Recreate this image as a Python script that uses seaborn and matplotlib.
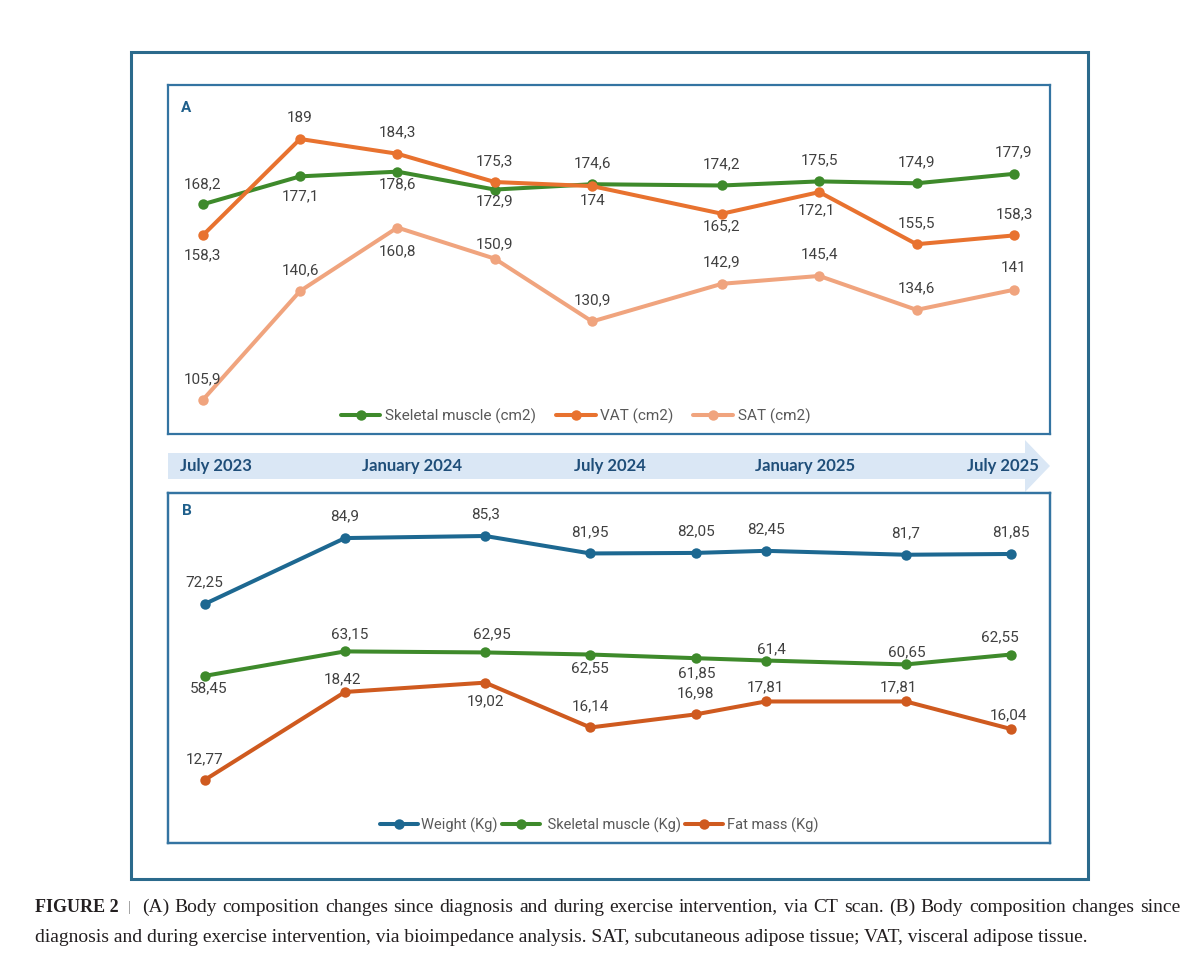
import numpy as np
import pandas as pd
import matplotlib
matplotlib.use("Agg")
import matplotlib.pyplot as plt
import seaborn as sns
from matplotlib.patches import Rectangle, Polygon

# Panel A - CT scan, months since July 2023
months_a = [0, 3, 6, 9, 12, 16, 19, 22, 25]
muscle_cm2 = [168.2, 177.1, 178.6, 172.9, 174.6, 174.2, 175.5, 174.9, 177.9]
vat_cm2 = [158.3, 189, 184.3, 175.3, 174, 165.2, 172.1, 155.5, 158.3]
sat_cm2 = [105.9, 140.6, 160.8, 150.9, 130.9, 142.9, 145.4, 134.6, 141]

# Panel B - bioimpedance, months since July 2023
months_b = [0, 4, 8, 11, 14, 16, 20, 23]
weight_kg = [72.25, 84.9, 85.3, 81.95, 82.05, 82.45, 81.7, 81.85]
muscle_kg = [58.45, 63.15, 62.95, 62.55, 61.85, 61.4, 60.65, 62.55]
fat_kg = [12.77, 18.42, 19.02, 16.14, 16.98, 17.81, 17.81, 16.04]

timeline = ["July 2023", "January 2024", "July 2024", "January 2025", "July 2025"]

caption_1 = ("(A) Body composition changes since diagnosis and during exercise intervention, "
             "via CT scan. (B) Body composition changes since")
caption_2 = ("diagnosis and during exercise intervention, via bioimpedance analysis. SAT, "
             "subcutaneous adipose tissue; VAT, visceral adipose tissue.")

sns.set_theme(style="white")
plt.rcParams["font.family"] = ["Roboto", "DejaVu Sans"]

GREEN = "#3e8a2b"
VAT_C = "#e8722f"
SAT_C = "#f0a47e"
BLUE = "#1d6891"
FAT_C = "#cf5a1f"
BOX = "#3474a2"
LABEL_C = "#404040"

fig = plt.figure(figsize=(12, 9.65), dpi=100)

# background layer in pixel coordinates: outer frame + timeline arrow
bg = fig.add_axes([0, 0, 1, 1], zorder=-1)
bg.set_xlim(0, 1200)
bg.set_ylim(965, 0)
bg.axis("off")
bg.add_patch(Rectangle((131, 52), 957, 827, fill=False, ec="#2b6a8c", lw=2.2))
bg.add_patch(Polygon([(168, 453), (1025, 453), (1025, 440), (1050, 466),
                      (1025, 492), (1025, 479), (168, 479)],
                     closed=True, fc="#dae7f5", ec="none"))
for lbl, xc in zip(timeline, [216, 412, 610, 805, 1003]):
    bg.text(xc, 466, lbl, ha="center", va="center", color="#1f4e79",
            fontsize=12, fontweight="bold", family=["Lato", "DejaVu Sans"])


def fmt(v):
    return f"{v:g}".replace(".", ",")


def draw(ax, x, y, color, label, offs, dx=None):
    sns.lineplot(x=x, y=y, ax=ax, color=color, marker="o", markersize=7.5,
                 markeredgewidth=0, linewidth=2.9, label=label, legend=False)
    if dx is None:
        dx = [0] * len(x)
    for xi, yi, o, d in zip(x, y, offs, dx):
        ax.annotate(fmt(yi), (xi, yi), xytext=(d * 0.72, o * 0.72),
                    textcoords="offset points", ha="center", va="center",
                    fontsize=11, color=LABEL_C)


def style_box(ax):
    ax.set_xticks([])
    ax.set_yticks([])
    ax.set_xlabel("")
    ax.set_ylabel("")
    for s in ax.spines.values():
        s.set_visible(True)
        s.set_color(BOX)
        s.set_linewidth(1.6)


# ---- Panel A ----
axA = fig.add_axes([168 / 1200, 1 - 434 / 965, 882 / 1200, 349 / 965])
draw(axA, months_a, muscle_cm2, GREEN, "Skeletal muscle (cm2)",
     [20, -20, -13, -12, 21, 21, 21, 21, 21.5])
draw(axA, months_a, vat_cm2, VAT_C, "VAT (cm2)",
     [-20, 21, 21, 21, -15, -12.5, -18.5, 21, 21.5], [0, 0, 0, 0, 0, 0, -3, 0, 0])
draw(axA, months_a, sat_cm2, SAT_C, "SAT (cm2)",
     [21, 21, -24, 14, 21, 21, 21.5, 21.5, 22])
axA.set_xlim(-1.07, 26.11)
axA.set_ylim(95.08, 206.19)
style_box(axA)
axA.text(13 / 882, 1 - 22.7 / 349, "A", transform=axA.transAxes, ha="left",
         va="center", fontsize=11, fontweight="bold", color="#1f5f8b")
h, l = axA.get_legend_handles_labels()
axA.legend(h, l, loc="center", bbox_to_anchor=(575.5 / 1200, 1 - 416.5 / 965),
           bbox_transform=fig.transFigure, ncol=3, frameon=False, fontsize=11,
           handlelength=2.6, handletextpad=0.3, columnspacing=1.3,
           labelcolor="#595959")

# ---- Panel B ----
axB = fig.add_axes([168 / 1200, 1 - 843 / 965, 882 / 1200, 350 / 965])
axB2 = axB.twinx()
draw(axB, months_b, weight_kg, BLUE, "Weight (Kg)", [21.5] * 8)
draw(axB, months_b, muscle_kg, GREEN, " Skeletal muscle (Kg)",
     [-12.6, 16.7, 17.7, -14, -15, 11, 12.6, 17], [4, 5, 7, 0, 1, 6, 1, -11])
draw(axB2, months_b, fat_kg, FAT_C, "Fat mass (Kg)",
     [21, 13, -19, 21.5, 21, 14, 14, 14], [0, -2, 0, 0, 0, 0, -7, -3])
axB.set_xlim(-1.047, 24.11)
axB.set_ylim(26.38, 93.55)
axB2.set_ylim(8.72, 31.2)
style_box(axB)
style_box(axB2)
axB.text(14 / 882, 1 - 18 / 350, "B", transform=axB.transAxes, ha="left",
         va="center", fontsize=11, fontweight="bold", color="#1f5f8b")
h1, l1 = axB.get_legend_handles_labels()
h2, l2 = axB2.get_legend_handles_labels()
axB2.legend(h1 + h2, l1 + l2, loc="center", bbox_to_anchor=(599 / 1200, 1 - 825 / 965),
            bbox_transform=fig.transFigure, ncol=3, frameon=False, fontsize=10.5,
            handlelength=2.6, handletextpad=0.25, columnspacing=0.3,
            labelcolor="#595959")

# ---- Caption ----
cap_font = ["Liberation Serif", "DejaVu Serif"]
bg.text(35, 911.5, "FIGURE 2", ha="left", va="baseline",
        fontsize=13, fontweight="bold", family=cap_font, color="#231f20")
bg.text(129, 911.5, "|", ha="center", va="baseline",
        fontsize=11, family=cap_font, color="#888888")

# first caption line is justified between x=141.7 and x=1180 px
renderer = fig.canvas.get_renderer()
words = caption_1.split()
pieces = [bg.text(0, 911.5, w, ha="left", va="baseline", fontsize=14,
                  family=cap_font, color="#231f20") for w in words]
widths = [p.get_window_extent(renderer).width for p in pieces]
gap = (1180 - 141.7 - sum(widths)) / (len(words) - 1)
xpos = 141.7
for p, w in zip(pieces, widths):
    p.set_x(xpos)
    xpos += w + gap
bg.text(35, 941.5, caption_2, ha="left", va="baseline", fontsize=14,
        family=cap_font, color="#231f20")

fig.savefig("out.png", dpi=100)
